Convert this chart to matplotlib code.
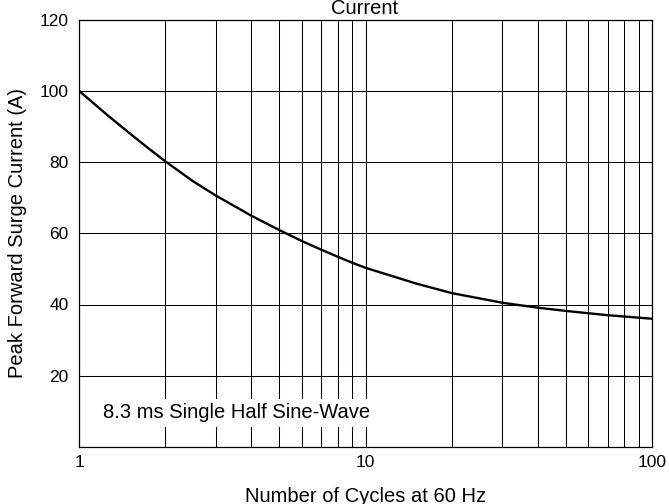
import matplotlib
matplotlib.use("Agg")
import matplotlib.pyplot as plt
from matplotlib.ticker import LogLocator, FixedLocator, NullFormatter

plt.rcParams['font.family'] = ['Liberation Sans', 'DejaVu Sans']

# Data
cycles = [1, 1.25, 1.5, 1.75, 2, 2.5, 3, 4, 5, 6, 7, 8, 9, 10,
          15, 20, 30, 40, 50, 70, 100]
surge_current = [100, 93.3, 88.1, 83.8, 80.2, 74.6, 70.6, 64.9, 60.9, 57.8, 55.4,
                 53.4, 51.7, 50.3, 45.9, 43.2, 40.5, 39.1, 38.2, 37.0, 36.0]

x_ticks = [1, 10, 100]
x_tick_labels = ["1", "10", "100"]
y_ticks = [20, 40, 60, 80, 100, 120]
y_tick_labels = ["20", "40", "60", "80", "100", "120"]

W, H = 669, 504
L, R, T, B = 79, 652, 19.5, 447
fig = plt.figure(figsize=(W/100, H/100), dpi=100)
ax = fig.add_axes([L/W, 1 - B/H, (R-L)/W, (B-T)/H])

ax.set_xscale('log')
ax.set_xlim(1, 100)
ax.set_ylim(0, 120)

ax.plot(cycles, surge_current, color='black', lw=1.7, zorder=3,
        solid_joinstyle='round', solid_capstyle='butt')

ax.xaxis.set_major_locator(FixedLocator(x_ticks))
ax.set_xticklabels(x_tick_labels)
ax.xaxis.set_minor_locator(LogLocator(base=10, subs=range(2, 10)))
ax.xaxis.set_minor_formatter(NullFormatter())
ax.set_yticks(y_ticks)
ax.set_yticklabels(y_tick_labels)

ax.grid(True, which='both', axis='x', color='black', lw=0.75)
ax.grid(True, which='major', axis='y', color='black', lw=0.75)
ax.tick_params(which='both', length=0, labelsize=12.5)
ax.tick_params(axis='x', pad=6)
ax.tick_params(axis='y', pad=7.5)

for s in ax.spines.values():
    s.set_linewidth(0.9)
    s.set_color('black')

ax.set_xlabel("Number of Cycles at 60 Hz", fontsize=14.5)
ax.xaxis.set_label_coords(0.5, (B - 486.5) / (B - T))
ax.set_ylabel("Peak Forward Surge Current (A)", fontsize=14.5)
ax.yaxis.set_label_coords((27 - L) / (R - L), 0.5)

ax.text(237/W, 1 - 418.3/H, "8.3 ms Single Half Sine-Wave", transform=fig.transFigure,
        ha='center', va='baseline', fontsize=14.5, zorder=4,
        bbox=dict(facecolor='white', edgecolor='none', pad=3))

fig.text(365/W, 1 - 14/H, "Current", ha='center', va='baseline', fontsize=14.5)

fig.savefig("out.png", dpi=100)
